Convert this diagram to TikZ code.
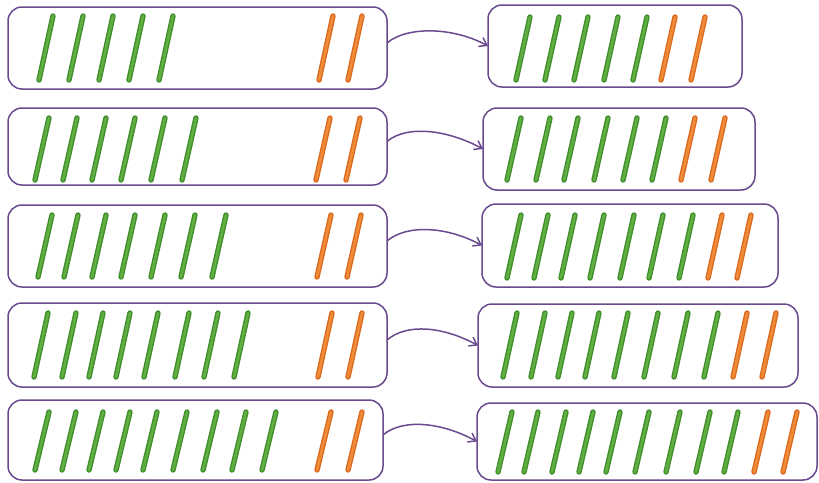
\documentclass[tikz,border=0pt]{standalone}
\usetikzlibrary{calc,arrows.meta}
\definecolor{boxpurple}{HTML}{6A4A8E}
\definecolor{gdark}{HTML}{3F8F2C}
\definecolor{glight}{HTML}{62AE42}
\definecolor{odark}{HTML}{DB6A1E}
\definecolor{olight}{HTML}{EE8C3A}
\tikzset{
  box/.style={draw=boxpurple, line width=1.5pt, rounded corners=14pt, inner sep=0pt, outer sep=0pt},
  arr/.style={draw=boxpurple, line width=1.5pt, -{Straight Barb[length=7pt,width=10pt]}},
  gstick/.style={draw=gdark, line width=5.4pt, line cap=round},
  gstickin/.style={draw=glight, line width=2.6pt, line cap=round},
  ostick/.style={draw=odark, line width=5.4pt, line cap=round},
  ostickin/.style={draw=olight, line width=2.6pt, line cap=round}
}
\newcommand{\sticks}[4]{% #1 list of top x, #2 top y, #3 bottom y, #4 g/o
  \foreach \sx in {#1}{
    \draw[#4stick] (\sx,#2) -- ({\sx-14},#3);
    \draw[#4stickin] (\sx,#2) -- ({\sx-14},#3);
  }}
\begin{document}
\begin{tikzpicture}[x=1pt,y=-1pt]
\useasboundingbox (0,0) rectangle (819,482);
\fill[white] (0,0) rectangle (819,482);
% boxes
\node[box, minimum width=379pt, minimum height=82pt] (L1) at (197.5,48) {};
\node[box, minimum width=254pt, minimum height=82pt] (R1) at (615,46) {};
\node[box, minimum width=379pt, minimum height=77pt] (L2) at (197.5,146.5) {};
\node[box, minimum width=272pt, minimum height=82pt] (R2) at (619,149) {};
\node[box, minimum width=379pt, minimum height=82pt] (L3) at (197.5,246) {};
\node[box, minimum width=296pt, minimum height=83pt] (R3) at (630,245.5) {};
\node[box, minimum width=379pt, minimum height=84pt] (L4) at (197.5,345) {};
\node[box, minimum width=320pt, minimum height=83pt] (R4) at (638,345.5) {};
\node[box, minimum width=375pt, minimum height=80pt] (L5) at (195.5,440) {};
\node[box, minimum width=340pt, minimum height=77pt] (R5) at (647,441.5) {};
% arrows
\foreach \i in {1,...,5}{
  \draw[arr] ($(L\i.east)+(0,-5)$) .. controls +(20,-17) and +(-35,-19) .. (R\i.west);
}
% sticks
\sticks{53,83,113,143,173}{16}{80}{g}
\sticks{333,362}{16}{80}{o}
\sticks{530,559,588,618,647}{17}{80}{g}
\sticks{675,705}{17}{80}{o}
\sticks{49,77,106,135,165,196}{118}{180}{g}
\sticks{330,360}{118}{180}{o}
\sticks{521,550,578,608,637,666}{118}{180}{g}
\sticks{695,725}{118}{180}{o}
\sticks{52,78,106,135,165,195,226}{215}{277}{g}
\sticks{331,361}{215}{277}{o}
\sticks{521,548,575,604,634,663,693}{215}{278}{g}
\sticks{722,751}{215}{278}{o}
\sticks{48,76,103,130,158,189,218,248}{313}{377}{g}
\sticks{332,362}{313}{377}{o}
\sticks{517,545,572,599,628,658,688,718}{313}{377}{g}
\sticks{747,776}{313}{377}{o}
\sticks{49,76,103,130,157,187,217,246,276}{412}{470}{g}
\sticks{331,362}{412}{470}{o}
\sticks{512,538,566,593,620,649,680,710,738}{412}{472}{g}
\sticks{768,797}{412}{472}{o}
\end{tikzpicture}
\end{document}
